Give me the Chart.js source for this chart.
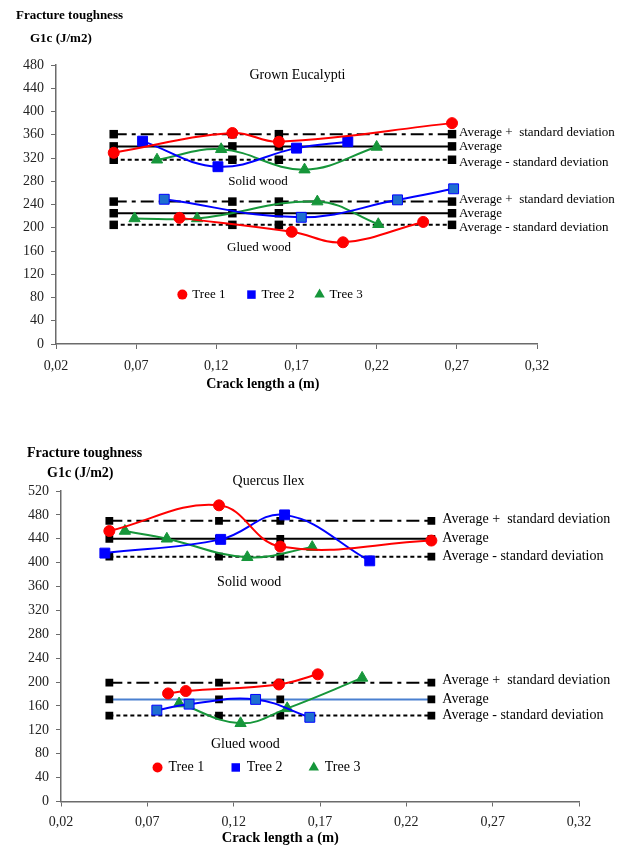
<!DOCTYPE html>
<html>
<head>
<meta charset="utf-8">
<script src="https://cdn.jsdelivr.net/npm/chart.js@4.4.1/dist/chart.umd.min.js"></script>
<style>
  html, body { margin: 0; padding: 0; background: #fff; }
  #wrap { position: relative; width: 627px; height: 845px; overflow: hidden; }
  .box { position: absolute; left: 0; width: 627px; }
</style>
</head>
<body>
<div id="wrap">
  <div class="box" style="top:0;height:400px"><canvas id="eucChart"></canvas></div>
  <div class="box" style="top:430px;height:415px"><canvas id="queChart"></canvas></div>
</div>
<script>
/* ═══ data ═══ */
var xTicks     = [0.02, 0.07, 0.12, 0.17, 0.22, 0.27, 0.32];
var eucYTicks  = [0, 40, 80, 120, 160, 200, 240, 280, 320, 360, 400, 440, 480];
var queYTicks  = [0, 40, 80, 120, 160, 200, 240, 280, 320, 360, 400, 440, 480, 520];
var treeNames  = ['Tree 1', 'Tree 2', 'Tree 3'];
var levelNames = ['Average +  standard deviation', 'Average', 'Average - standard deviation'];

// Grown Eucalypti : levels are [avg + sd, avg, avg - sd]
var eucLevelX   = [0.056, 0.13, 0.159, 0.267];
var eucSolidLvl = [361, 340, 317];
var eucGluedLvl = [245, 225, 205];
var eucSolid1X = [0.056, 0.13, 0.159, 0.267], eucSolid1Y = [329, 363, 348, 380];
var eucSolid2X = [0.074, 0.121, 0.17, 0.202],  eucSolid2Y = [349, 305, 337, 348];
var eucSolid3X = [0.083, 0.123, 0.175, 0.22],  eucSolid3Y = [317, 335, 300, 339];
var eucGlued1X = [0.097, 0.167, 0.199, 0.249], eucGlued1Y = [217, 193, 175, 210];
var eucGlued2X = [0.0875, 0.173, 0.233, 0.268], eucGlued2Y = [249, 218, 248, 267];
var eucGlued3X = [0.069, 0.108, 0.183, 0.221], eucGlued3Y = [216, 216, 245, 206];

// Quercus Ilex
var queLevelX   = [0.048, 0.1115, 0.147, 0.2345];
var queSolidLvl = [470, 440, 410];
var queGluedLvl = [199, 171, 144];
var queSolid1X = [0.048, 0.1115, 0.147, 0.2345], queSolid1Y = [453, 496, 427, 437];
var queSolid2X = [0.0454, 0.1125, 0.1495, 0.1988], queSolid2Y = [416, 439, 480, 403];
var queSolid3X = [0.057, 0.0813, 0.1279, 0.1655], queSolid3Y = [453, 440, 409, 426];
var queGlued1X = [0.082, 0.0923, 0.1462, 0.1687], queGlued1Y = [181, 185, 196, 213];
var queGlued2X = [0.0755, 0.0942, 0.1327, 0.1641], queGlued2Y = [153, 163, 171, 141];
var queGlued3X = [0.0884, 0.124, 0.151, 0.1944], queGlued3Y = [164, 131, 156, 207];

/* ═══ styles ═══ */
var RED = '#ff0000', BLUE = '#0000ff', GREEN = '#16963a', AXIS = '#6b6b6b';
var SERIF = '"Liberation Serif", "Times New Roman", serif';
var treeStyle = [
  { color: RED,   fill: RED,   style: 'circle',   r: 5.5 },
  { color: BLUE,  fill: BLUE,  style: 'rect',     r: 7   },
  { color: GREEN, fill: GREEN, style: 'triangle', r: 6.5 }
];
var DASHDOT = [13, 5, 4, 5], DASHED = [4, 3];

Chart.defaults.font.family = SERIF;

function pts(xs, ys) {
  return xs.map(function(x, i) { return { x: x, y: ys[i] }; });
}
function treeSet(i, xs, ys, fill) {
  var s = treeStyle[i];
  return {
    label: treeNames[i], data: pts(xs, ys), showLine: true, tension: 0.4,
    borderColor: s.color, borderWidth: 2,
    pointStyle: s.style, pointRadius: s.r,
    pointBackgroundColor: fill || s.fill, pointBorderColor: s.color, pointBorderWidth: 1,
    order: 1
  };
}
function levelSet(xs, v, dash, color, r) {
  return {
    data: xs.map(function(x) { return { x: x, y: v }; }), showLine: true, tension: 0,
    borderColor: color || '#000', borderWidth: 2, borderDash: dash || [],
    pointStyle: 'rect', pointRadius: r, pointBackgroundColor: '#000', pointBorderColor: '#000',
    pointBorderWidth: 0, order: 2
  };
}
function levelSets(xs, lvl, avgColor, r) {
  return [levelSet(xs, lvl[0], DASHDOT, '#000', r), levelSet(xs, lvl[1], [], avgColor, r), levelSet(xs, lvl[2], DASHED, '#000', r)];
}

// text drawn on top: axis titles, group captions, level tags, legend
var notesPlugin = {
  id: 'notes',
  afterDatasetsDraw: function(chart) {
    var o = chart.options.plugins.notes;
    var ctx = chart.ctx, sx = chart.scales.x, sy = chart.scales.y;
    ctx.save();
    ctx.fillStyle = '#000';
    ctx.textBaseline = 'middle';
    ctx.textAlign = 'left';
    ctx.font = 'bold ' + o.size + 'px ' + SERIF;
    o.yTitle.forEach(function(t) { ctx.fillText(t.text, t.x, t.y); });

    ctx.textAlign = 'center';
    ctx.font = 'bold ' + o.xTitle.size + 'px ' + SERIF;
    ctx.fillText('Crack length a (m)', sx.getPixelForValue(o.xTitle.x), o.xTitle.y);

    o.captions.forEach(function(c) {
      ctx.font = (c.size || o.size) + 'px ' + SERIF;
      ctx.fillText(c.text, sx.getPixelForValue(c.x), sy.getPixelForValue(c.y));
    });

    ctx.font = o.size + 'px ' + SERIF;
    ctx.textAlign = 'left';
    o.tags.forEach(function(g) {
      var px = sx.getPixelForValue(g.xEnd) + o.tagGap;
      g.values.forEach(function(v, i) {
        ctx.fillText(levelNames[i], px, sy.getPixelForValue(v) + o.tagShift[i]);
      });
    });

    var ly = sy.getPixelForValue(o.legend.y);
    o.legend.x.forEach(function(x, i) {
      var s = treeStyle[i], px = sx.getPixelForValue(x);
      ctx.fillStyle = s.fill; ctx.strokeStyle = s.color;
      Chart.helpers.drawPoint(ctx, { pointStyle: s.style, radius: o.legend.r[i], rotation: 0, borderWidth: 0 }, px, ly);
      ctx.fillStyle = '#000';
      ctx.fillText(treeNames[i], px + o.legend.gap, ly);
    });
    ctx.restore();
  }
};

function scales(yTicks, yWidth, xHeight, xPad) {
  return {
    x: {
      type: 'linear', min: xTicks[0], max: xTicks[xTicks.length - 1],
      afterBuildTicks: function(s) { s.ticks = xTicks.map(function(v) { return { value: v }; }); },
      afterFit: function(s) { s.height = xHeight; },
      ticks: {
        autoSkip: false, maxRotation: 0, padding: xPad, color: '#222', font: { size: 14 },
        callback: function(v) { return Number(v).toFixed(2).replace('.', ','); }
      },
      grid: { drawOnChartArea: false, drawTicks: true, tickLength: 5, color: AXIS },
      border: { color: AXIS, width: 1.5 }
    },
    y: {
      type: 'linear', min: yTicks[0], max: yTicks[yTicks.length - 1],
      afterBuildTicks: function(s) { s.ticks = yTicks.map(function(v) { return { value: v }; }); },
      afterFit: function(s) { s.width = yWidth; },
      ticks: { padding: 7, color: '#222', font: { size: 14 } },
      grid: { drawOnChartArea: false, drawTicks: true, tickLength: 5, color: AXIS },
      border: { color: AXIS, width: 1.5 }
    }
  };
}

function makeChart(id, datasets, sc, padding, notes) {
  return new Chart(document.getElementById(id), {
    type: 'scatter',
    data: { datasets: datasets },
    plugins: [notesPlugin],
    options: {
      responsive: true, maintainAspectRatio: false, animation: false, events: [],
      layout: { padding: padding },
      plugins: { legend: { display: false }, tooltip: { enabled: false }, notes: notes },
      scales: sc
    }
  });
}

/* ═══ Grown Eucalypti ═══ */
makeChart('eucChart',
  [
    treeSet(0, eucSolid1X, eucSolid1Y), treeSet(1, eucSolid2X, eucSolid2Y), treeSet(2, eucSolid3X, eucSolid3Y),
    treeSet(0, eucGlued1X, eucGlued1Y), treeSet(1, eucGlued2X, eucGlued2Y, '#1f6fd0'), treeSet(2, eucGlued3X, eucGlued3Y)
  ].concat(levelSets(eucLevelX, eucSolidLvl, '#000', 6), levelSets(eucLevelX, eucGluedLvl, '#000', 6)),
  scales(eucYTicks, 56, 56, 9),
  { top: 65, right: 90, bottom: 0, left: 0 },
  {
    size: 13,
    xTitle: { x: 0.149, y: 384, size: 14 },
    yTitle: [{ text: 'Fracture toughness', x: 16, y: 16 }, { text: 'G1c (J/m2)', x: 30, y: 39 }],
    captions: [
      { text: 'Grown Eucalypti', x: 0.1706, y: 463, size: 14 },
      { text: 'Solid wood', x: 0.146, y: 279 },
      { text: 'Glued wood', x: 0.1466, y: 166 }
    ],
    tags: [{ xEnd: eucLevelX[3], values: eucSolidLvl }, { xEnd: eucLevelX[3], values: eucGluedLvl }],
    tagGap: 7, tagShift: [-2, 0, 3],
    legend: { x: [0.0988, 0.1419, 0.1844], y: 85, gap: 10, r: [5, 6, 6] }
  }
);

/* ═══ Quercus Ilex ═══ */
makeChart('queChart',
  [
    treeSet(0, queSolid1X, queSolid1Y), treeSet(1, queSolid2X, queSolid2Y), treeSet(2, queSolid3X, queSolid3Y),
    treeSet(0, queGlued1X, queGlued1Y), treeSet(1, queGlued2X, queGlued2Y, '#1f6fd0'), treeSet(2, queGlued3X, queGlued3Y)
  ].concat(levelSets(queLevelX, queSolidLvl, '#000', 5.5), levelSets(queLevelX, queGluedLvl, '#4a80d0', 5.5)),
  scales(queYTicks, 61, 43.5, 7),
  { top: 61, right: 48, bottom: 0, left: 0 },
  {
    size: 14,
    xTitle: { x: 0.147, y: 408, size: 14.5 },
    yTitle: [{ text: 'Fracture toughness', x: 27, y: 23 }, { text: 'G1c (J/m2)', x: 47, y: 43 }],
    captions: [
      { text: 'Quercus Ilex', x: 0.1402, y: 536 },
      { text: 'Solid wood', x: 0.129, y: 367 },
      { text: 'Glued wood', x: 0.1268, y: 95 }
    ],
    tags: [{ xEnd: queLevelX[3], values: queSolidLvl }, { xEnd: queLevelX[3], values: queGluedLvl }],
    tagGap: 11, tagShift: [-2, 0, 0],
    legend: { x: [0.0759, 0.1212, 0.1664], y: 57, gap: 11, r: [5, 6, 6] }
  }
);
</script>
</body>
</html>
